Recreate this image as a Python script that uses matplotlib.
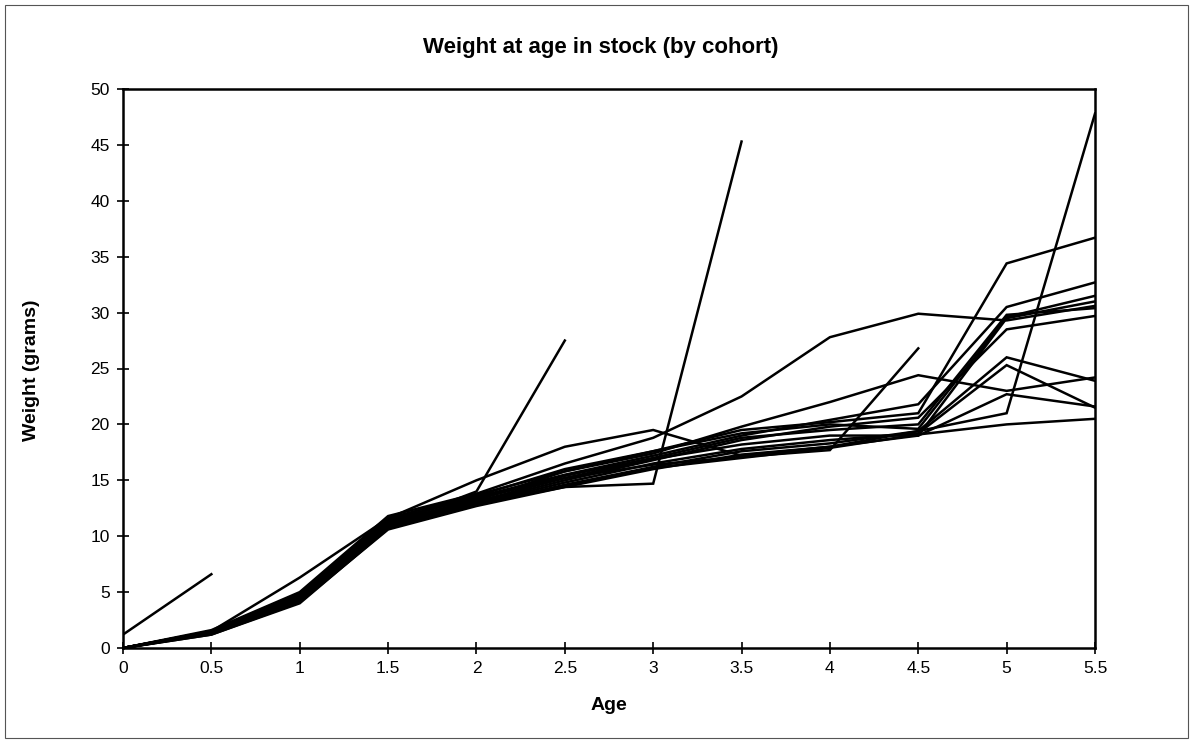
import numpy as np
import matplotlib
matplotlib.use("Agg")
import matplotlib.pyplot as plt
from matplotlib.patches import Rectangle

nan = np.nan
ages = [0, 0.5, 1, 1.5, 2, 2.5, 3, 3.5, 4, 4.5, 5, 5.5]
age_labels = ["0", "0.5", "1", "1.5", "2", "2.5", "3", "3.5", "4", "4.5", "5", "5.5"]

cohort_a = [1.2, 6.6, nan, nan, nan, nan, nan, nan, nan, nan, nan, nan]
cohort_b = [0, 1.4, 4.6, 11.0, 14.0, 27.5, nan, nan, nan, nan, nan, nan]
cohort_c = [0, 1.3, 4.3, 10.8, 12.9, 14.4, 14.7, 45.3, nan, nan, nan, nan]
cohort_d = [0, 1.5, 4.8, 11.5, 13.4, 15.2, 16.4, 17.1, 17.7, 26.8, nan, nan]
cohort_e = [0, 1.3, 4.2, 10.7, 12.8, 14.6, 16.2, 17.6, 18.3, 19.4, 21.0, 47.8]
cohort_f = [0, 1.6, 5.0, 11.8, 13.8, 16.5, 18.8, 22.5, 27.8, 29.9, 29.3, 30.6]
cohort_g = [0, 1.5, 6.3, 11.6, 15.0, 18.0, 19.5, 17.2, 18.0, 19.0, 29.5, 31.0]
cohort_h = [0, 1.4, 4.5, 11.3, 13.6, 16.0, 17.6, 19.5, 20.2, 21.0, 34.4, 36.7]
cohort_i = [0, 1.4, 4.4, 11.0, 13.2, 15.8, 17.4, 19.8, 22.0, 24.4, 23.0, 24.2]
cohort_j = [0, 1.5, 4.7, 11.4, 13.5, 15.5, 17.2, 19.0, 20.4, 21.8, 30.5, 32.7]
cohort_k = [0, 1.3, 4.3, 10.9, 13.0, 15.0, 16.8, 18.6, 19.8, 20.6, 28.5, 29.7]
cohort_l = [0, 1.2, 4.1, 10.6, 12.7, 14.4, 16.0, 17.3, 18.0, 19.4, 26.0, 23.9]
cohort_m = [0, 1.3, 4.2, 10.8, 12.9, 14.8, 16.5, 17.8, 18.6, 19.2, 25.3, 21.5]
cohort_n = [0, 1.4, 4.4, 11.1, 13.1, 15.2, 16.9, 18.2, 19.0, 19.0, 22.7, 21.6]
cohort_o = [0, 1.2, 4.0, 10.7, 12.8, 14.5, 16.1, 17.0, 17.9, 19.1, 20.0, 20.5]
cohort_p = [0, 1.5, 4.9, 11.6, 13.7, 15.8, 17.6, 19.2, 20.0, 19.6, 29.6, 31.5]
cohort_q = [0, 1.4, 4.6, 11.2, 13.3, 15.4, 17.0, 18.8, 19.5, 20.0, 29.8, 30.4]

cohorts = [cohort_a, cohort_b, cohort_c, cohort_d, cohort_e, cohort_f, cohort_g,
           cohort_h, cohort_i, cohort_j, cohort_k, cohort_l, cohort_m, cohort_n,
           cohort_o, cohort_p, cohort_q]

plt.rcParams['font.family'] = ['Liberation Sans', 'DejaVu Sans']

W, H = 1193, 743
fig = plt.figure(figsize=(W / 100, H / 100), dpi=100)
fig.patch.set_facecolor('white')

# outer chart-area frame
fig.patches.append(Rectangle((5 / W, 1 - 738 / H), 1183 / W, 733 / H,
                             transform=fig.transFigure, fill=False,
                             edgecolor='#555555', linewidth=0.8))

left, right, top, bottom = 123, 1095, 89, 648
ax = fig.add_axes([left / W, 1 - bottom / H, (right - left) / W, (bottom - top) / H])

for c in cohorts:
    ax.plot(ages, c, color='black', linewidth=1.8, solid_joinstyle='miter')

ax.set_xlim(0, 5.5)
ax.set_ylim(0, 50)
ax.set_xticks(ages)
ax.set_xticklabels(age_labels)
ax.set_yticks(np.arange(0, 51, 5))
ax.tick_params(axis='both', direction='inout', length=9, width=1.2,
               labelsize=12.5, colors='black')
ax.tick_params(axis='x', pad=5)
ax.tick_params(axis='y', pad=5)
for s in ax.spines.values():
    s.set_linewidth(1.8)
    s.set_color('black')

fig.text(601 / W, 1 - 48 / H, "Weight at age in stock (by cohort)",
         ha='center', va='center', fontsize=16, fontweight='bold')
fig.text(609 / W, 1 - 705 / H, "Age", ha='center', va='center',
         fontsize=14, fontweight='bold')
fig.text(32 / W, 1 - 370 / H, "Weight (grams)", ha='center', va='center',
         rotation=90, fontsize=14, fontweight='bold')

fig.savefig("out.png", dpi=100)
